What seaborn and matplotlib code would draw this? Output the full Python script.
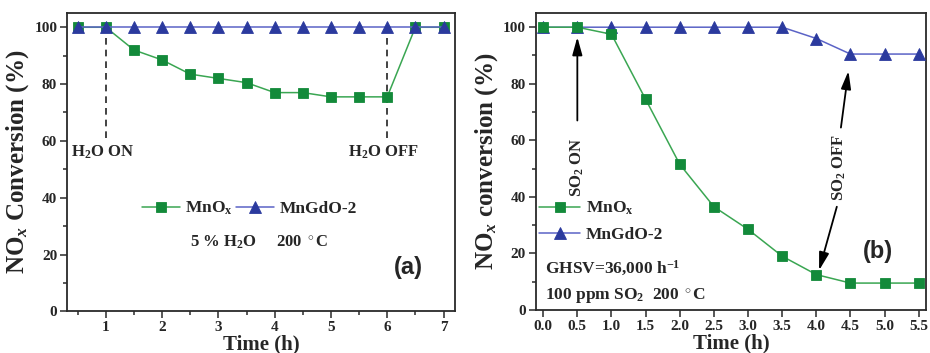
import matplotlib
matplotlib.use("Agg")
import matplotlib.pyplot as plt
import seaborn as sns
import pandas as pd
from matplotlib.ticker import MultipleLocator, FormatStrFormatter

# ---------------- data ----------------
time_a = [0.5, 1.0, 1.5, 2.0, 2.5, 3.0, 3.5, 4.0, 4.5, 5.0, 5.5, 6.0, 6.5, 7.0]
mnox_a = [100, 100, 92, 88.5, 83.5, 82, 80.5, 77, 77, 75.5, 75.5, 75.5, 100, 100]
mngdo_a = [100, 100, 100, 100, 100, 100, 100, 100, 100, 100, 100, 100, 100, 100]

time_b = [0.0, 0.5, 1.0, 1.5, 2.0, 2.5, 3.0, 3.5, 4.0, 4.5, 5.0, 5.5]
mnox_b = [100, 100, 97.5, 74.5, 51.5, 36.5, 28.5, 19, 12.5, 9.5, 9.5, 9.5]
mngdo_b = [100, 100, 100, 100, 100, 100, 100, 100, 96, 90.5, 90.5, 90.5]

series_labels = ["MnO$_\\mathregular{x}$", "MnGdO-2"]

# ---------------- style ----------------
sns.set_theme(style="ticks")
plt.rcParams["font.family"] = ["Liberation Serif", "DejaVu Serif"]
plt.rcParams["font.weight"] = "bold"
plt.rcParams["mathtext.fontset"] = "custom"
plt.rcParams["mathtext.rm"] = "Liberation Serif:bold"
plt.rcParams["mathtext.it"] = "Liberation Serif:italic:bold"
plt.rcParams["mathtext.bf"] = "Liberation Serif:bold"

G_LINE, G_MARK = "#3aa652", "#138a3a"
B_LINE, B_MARK = "#5b63c6", "#2b3a9e"

fig = plt.figure(figsize=(9.3, 3.53), dpi=100)
ax_a = fig.add_axes([0.072, 0.118, 0.417, 0.845])
ax_b = fig.add_axes([0.576, 0.122, 0.420, 0.841])

df_a = pd.DataFrame({"t": time_a, "mnox": mnox_a, "mngdo": mngdo_a})
df_b = pd.DataFrame({"t": time_b, "mnox": mnox_b, "mngdo": mngdo_b})

def draw_green(ax, df, z):
    sns.lineplot(data=df, x="t", y="mnox", ax=ax, color=G_LINE, lw=1.1,
                 marker="s", markersize=6.5, markerfacecolor=G_MARK,
                 markeredgecolor=G_MARK, markeredgewidth=0.6,
                 label=series_labels[0], zorder=z)

def draw_blue(ax, df, z):
    sns.lineplot(data=df, x="t", y="mngdo", ax=ax, color=B_LINE, lw=1.1,
                 marker="^", markersize=8, markerfacecolor=B_MARK,
                 markeredgecolor=B_MARK, markeredgewidth=0.6,
                 label=series_labels[1], zorder=z)

# panel a: blue drawn on top
draw_green(ax_a, df_a, 3)
draw_blue(ax_a, df_a, 4)
# panel b: green drawn on top
draw_blue(ax_b, df_b, 3)
draw_green(ax_b, df_b, 4)

def style_axis(ax):
    for s in ax.spines.values():
        s.set_visible(True)
        s.set_linewidth(1.3)
        s.set_color("#2a2a2a")
    ax.tick_params(which="both", direction="out", top=False, right=False,
                   labelsize=11, width=1.1, color="#2a2a2a")
    ax.tick_params(which="major", length=5, pad=2)
    ax.tick_params(which="minor", length=3)
    for lab in ax.get_xticklabels() + ax.get_yticklabels():
        lab.set_fontweight("bold")
    ax.set_ylim(0, 105)
    ax.yaxis.set_major_locator(MultipleLocator(20))
    ax.yaxis.set_minor_locator(MultipleLocator(10))

# ---- panel a ----
ax_a.set_xlim(0.31, 7.2)
ax_a.xaxis.set_major_locator(MultipleLocator(1))
ax_a.xaxis.set_minor_locator(MultipleLocator(0.5))
style_axis(ax_a)
ax_a.set_xlabel("Time (h)", fontsize=15, fontweight="bold", labelpad=0.5)
ax_a.set_ylabel("NO$_\\mathit{x}$ Conversion (%)", fontsize=18, fontweight="bold", labelpad=2)

ax_a.plot([1, 1], [61, 100], ls=(0, (4, 3)), color="#222222", lw=1.2, zorder=2)
ax_a.plot([6, 6], [61, 100], ls=(0, (4, 3)), color="#222222", lw=1.2, zorder=2)
ax_a.text(0.39, 56, "H$_2$O ON", fontsize=12, fontweight="bold", ha="left", va="center")
ax_a.text(5.93, 56, "H$_2$O OFF", fontsize=12, fontweight="bold", ha="center", va="center")
ax_a.text(3.73, 24.4, "5 % H$_2$O     200 $^\\circ$C", fontsize=12, fontweight="bold",
          ha="center", va="center")
ax_a.text(6.37, 15.6, "(a)", fontsize=17, fontweight="bold", ha="center", va="center",
          family=["Liberation Sans", "DejaVu Sans"])
leg_a = ax_a.legend(loc="center", bbox_to_anchor=(0.47, 0.345), ncol=2, frameon=False,
                    fontsize=12.5, handlelength=2.2, handletextpad=0.3, columnspacing=0.2,
                    borderaxespad=0)

# ---- panel b ----
ax_b.set_xlim(-0.11, 5.61)
ax_b.xaxis.set_major_locator(MultipleLocator(0.5))
ax_b.xaxis.set_major_formatter(FormatStrFormatter("%.1f"))
style_axis(ax_b)
ax_b.set_xlabel("Time (h)", fontsize=15, fontweight="bold", labelpad=0.5)
ax_b.set_ylabel("NO$_\\mathit{x}$ conversion (%)", fontsize=18, fontweight="bold", labelpad=2)

arrow_kw = dict(arrowstyle="-|>,head_length=0.9,head_width=0.25", color="black", lw=1.3,
                shrinkA=0, shrinkB=0)
ax_b.annotate("", xy=(0.5, 96.5), xytext=(0.5, 67), arrowprops=arrow_kw)
ax_b.text(0.5, 50.5, "SO$_2$ ON", rotation=90, fontsize=12, fontweight="bold",
          ha="center", va="center")
ax_b.annotate("", xy=(4.47, 84.5), xytext=(4.36, 64.5), arrowprops=arrow_kw)
ax_b.annotate("", xy=(4.04, 14.0), xytext=(4.3, 36.5), arrowprops=arrow_kw)
ax_b.text(4.33, 50.5, "SO$_2$ OFF", rotation=90, fontsize=12, fontweight="bold",
          ha="center", va="center")
ax_b.text(0.03, 14.8, "GHSV=36,000 h$^{-1}$", fontsize=12.5, fontweight="bold",
          ha="left", va="center")
ax_b.text(0.03, 4.8, "100 ppm SO$_2$  200 $^\\circ$C", fontsize=12.5, fontweight="bold",
          ha="left", va="center")
ax_b.text(4.9, 20.5, "(b)", fontsize=17, fontweight="bold", ha="center", va="center",
          family=["Liberation Sans", "DejaVu Sans"])
handles, labels = ax_b.get_legend_handles_labels()
order = [labels.index(series_labels[0]), labels.index(series_labels[1])]
ax_b.legend([handles[i] for i in order], [labels[i] for i in order],
            loc="upper left", bbox_to_anchor=(-0.01, 0.395), frameon=False, fontsize=12.5,
            handlelength=2.4, handletextpad=0.3, labelspacing=0.55, borderaxespad=0)

fig.savefig("out.png", dpi=100)
